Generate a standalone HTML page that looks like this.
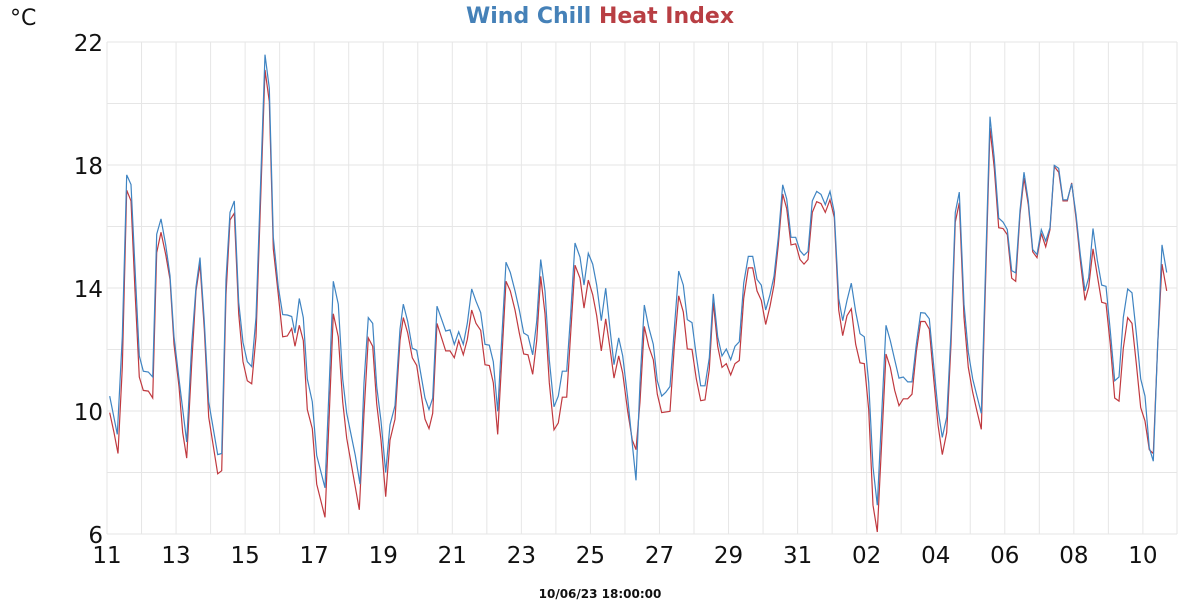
<!DOCTYPE html>
<html><head><meta charset="utf-8"><style>
html,body{margin:0;padding:0;background:#fff;}
svg{display:block;font-family:"DejaVu Sans","Liberation Sans",sans-serif;}
</style></head><body>
<svg id="s" width="1200" height="600" xmlns="http://www.w3.org/2000/svg">
<text x="600" y="23" text-anchor="middle" font-size="22" font-weight="bold"><tspan fill="#4581b8">Wind Chill</tspan> <tspan fill="#b83e43">Heat Index</tspan></text>
<text x="10" y="25" font-size="22" fill="#111">°C</text>
<text x="600" y="598" text-anchor="middle" font-size="12" font-weight="bold" fill="#111">10/06/23 18:00:00</text>
<g id="grid"></g>
<g id="lab" font-size="23" fill="#111"></g>
<polyline id="red" fill="none" stroke="#c0393f" stroke-width="1.2"/>
<polyline id="blue" fill="none" stroke="#3f84c2" stroke-width="1.2"/>
</svg>
<script>
var NS="http://www.w3.org/2000/svg";
function el(t,a,p,txt){var e=document.createElementNS(NS,t);for(var k in a)e.setAttribute(k,a[k]);if(txt)e.textContent=txt;document.getElementById(p).appendChild(e);}
var L=107,R=1177,T=42,B=534;
for(var v=6;v<=22;v+=2){var y=B-(v-6)*(B-T)/16;el('line',{x1:L,x2:R,y1:y,y2:y,stroke:'#e6e6e6','stroke-width':1},'grid');}
var days=['11','','13','','15','','17','','19','','21','','23','','25','','27','','29','','31','','02','','04','','06','','08','','10',''];
for(var i=0;i<=31;i++){var x=L+i*34.53;if(x>R)x=R;el('line',{x1:x,x2:x,y1:T,y2:B,stroke:'#e6e6e6','stroke-width':1},'grid');if(i<31&&days[i])el('text',{x:x,y:563,'text-anchor':'middle'},'lab',days[i]);}
[22,18,14,10,6].forEach(function(v){var y=B-(v-6)*(B-T)/16;el('text',{x:103,y:y+9,'text-anchor':'end'},'lab',String(v));});
function conv(off,arr){var o=[];for(var i=0;i<arr.length;i+=2)o.push((off+arr[i]/3).toFixed(1)+','+(arr[i+1]/2.613).toFixed(1));return o;}
var b1=[329,1035,352,1135,367,880,380,457,393,482,405,700,418,930,430,970,445,972,458,985,470,612,483,572,497,640,510,720,522,880,537,990,560,1155,575,900,588,750,600,673,613,840,626,1050,653,1188,665,1185,678,730,690,555,703,525,716,790,729,895,742,945,755,958,768,830,795,143,808,230,820,620,835,750,848,822,862,823,875,827,885,870,898,780,910,830,922,990,937,1050,950,1190,975,1275,988,1000,1000,735,1015,795,1028,990,1040,1080,1066,1190,1080,1265,1092,1000,1105,830,1118,845,1130,1010,1143,1100,1157,1235,1170,1110,1185,1060];
var r1=[329,1078,342,1130,354,1185,367,960,380,497,393,525,405,760,418,985,430,1020,445,1022,458,1040,470,660,483,607,497,665,510,730,522,900,537,1010,548,1130,560,1197,575,950,588,760,600,690,613,860,626,1090,653,1238,665,1230,678,770,690,575,703,557,716,820,729,945,742,995,755,1003,768,880,795,183,808,265,820,650,835,770,848,880,862,878,875,858,885,905,898,850,910,890,922,1070,937,1120,950,1265,975,1352,988,1080,1000,820,1015,880,1028,1050,1040,1145,1078,1332,1092,1080,1105,883,1118,905,1130,1055,1143,1150,1157,1298,1170,1150,1185,1095];
var b2=[0,860,10,795,23,840,37,910,50,915,75,1040,87,1070,98,1040,111,800,123,830,137,865,150,862,163,900,176,867,190,900,202,845,215,755,228,787,242,817,255,900,268,902,280,945,293,1075,318,685,331,712,345,760,358,810,371,870,384,877,398,927,410,840,422,678,435,760,448,940,462,1063,475,1035,487,970,500,970,512,820,525,635,540,672,552,745,565,662,578,690,590,745,604,838,617,753,630,860,642,953,656,883,668,930,683,1040,697,1160,708,1255,720,1000,733,797,746,855,760,900,772,995,785,1035,797,1025,810,1010,823,860,836,708,850,745,862,835,876,843,889,930,902,1008,915,1008,928,935,940,768,953,880,966,930,979,912,992,940,1005,905,1018,893,1031,740,1045,670,1058,670,1071,730,1084,745,1097,810,1110,770,1122,722,1135,620,1148,483,1160,520,1173,620,1187,620];
var r2=[0,890,10,830,23,870,37,935,50,955,75,1095,87,1120,98,1080,111,845,137,917,150,917,163,935,176,890,190,927,202,887,215,810,228,845,242,863,255,953,268,955,280,1000,293,1135,318,735,331,760,345,810,358,870,371,925,384,927,398,978,410,890,422,722,435,820,448,1000,462,1123,475,1105,487,1038,500,1038,512,870,525,693,540,727,552,805,565,732,578,770,590,825,604,917,617,833,630,910,642,988,656,930,668,975,683,1075,697,1150,708,1175,720,1050,733,853,746,905,760,940,772,1030,785,1078,810,1075,823,905,836,773,850,815,862,912,876,913,889,990,902,1047,915,1045,928,965,940,790,953,905,966,960,979,950,992,980,1005,950,1018,942,1031,780,1045,700,1058,700,1071,760,1084,785,1097,848,1110,800,1122,745,1135,640,1148,507,1160,545,1173,640,1187,637];
var b3=[0,655,12,667,24,657,37,525,50,500,63,508,76,535,90,500,103,555,116,780,128,838,141,785,154,740,167,815,180,872,193,880,206,1000,219,1220,232,1320,258,850,271,890,284,940,297,988,310,985,323,998,336,998,349,900,362,817,375,818,388,833,401,955,414,1070,427,1143,440,1090,453,870,466,555,478,502,492,795,505,920,518,990,531,1035,544,1080,570,305,583,415,596,570,609,580,622,600,635,707,647,713,660,550,672,450,685,525,698,652,711,665,724,600,737,630,750,595,763,432,776,440,789,522,802,522,815,480,828,560,841,665,855,760,866,725,879,597,892,680,905,745,918,748,931,865,944,995,957,985,970,830,983,755,996,765,1009,870,1022,990,1035,1035,1048,1170,1060,1205,1073,900,1086,640,1100,712];
var r3=[0,678,12,690,24,678,37,555,50,527,63,532,76,555,90,522,103,568,116,810,128,877,141,825,154,807,167,900,180,948,193,950,206,1070,219,1320,232,1390,258,925,271,960,284,1020,297,1060,310,1042,323,1042,336,1030,349,920,362,840,375,840,388,860,401,990,414,1110,427,1188,440,1130,453,900,466,580,478,530,492,830,505,960,518,1025,531,1075,544,1122,570,335,583,440,596,595,609,597,622,613,635,727,647,735,660,560,672,465,685,535,698,658,711,673,724,610,737,645,750,600,763,435,776,450,789,525,802,525,815,478,828,570,841,680,855,785,866,750,879,650,892,720,905,790,918,793,931,900,944,1040,957,1048,970,910,983,830,996,845,1009,950,1022,1065,1035,1100,1048,1175,1060,1185,1073,900,1086,690,1100,760];
document.getElementById('blue').setAttribute('points',conv(0,b1).concat(conv(400,b2),conv(800,b3)).join(' '));
document.getElementById('red').setAttribute('points',conv(0,r1).concat(conv(400,r2),conv(800,r3)).join(' '));
</script>
</body></html>
